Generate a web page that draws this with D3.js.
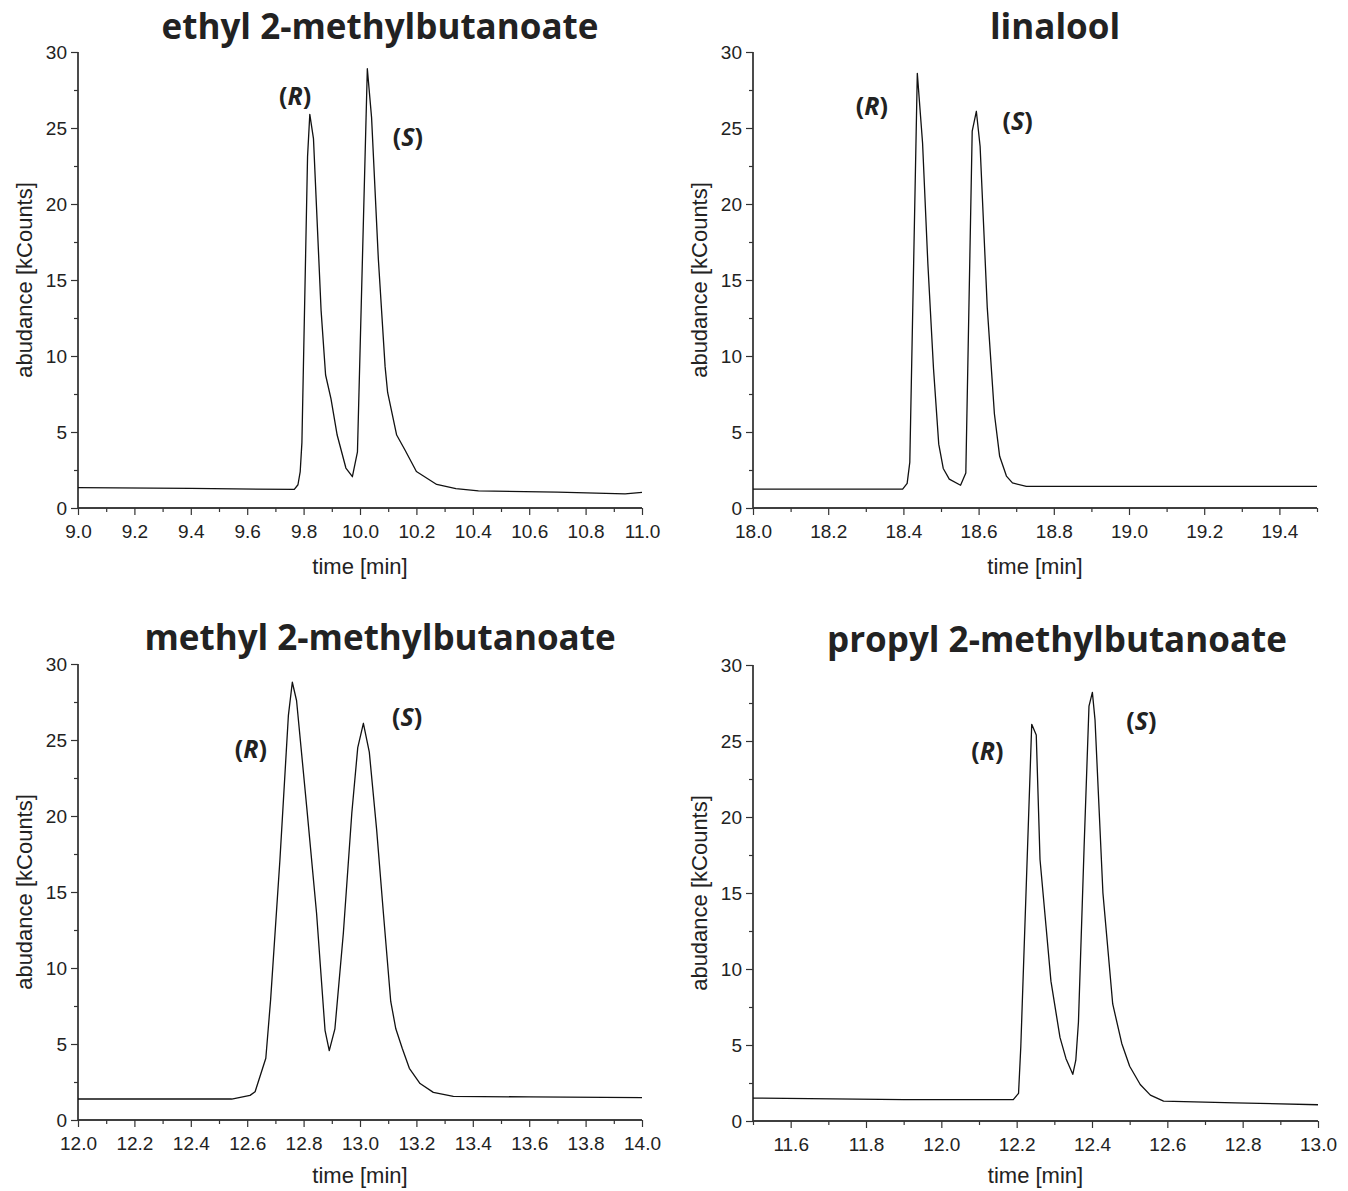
<!DOCTYPE html>
<html>
<head>
<meta charset="utf-8">
<script src="https://cdn.jsdelivr.net/npm/d3@7"></script>
<style>
  body { margin: 0; background: #fff; }
  .tick text { font-family: "Liberation Sans", Arial, sans-serif; font-size: 19px; fill: #222; }
  .axisTitle { font-family: "Liberation Sans", Arial, sans-serif; font-size: 22px; fill: #222; }
  .panelTitle { font-family: "Open Sans", sans-serif; font-weight: 700; font-size: 35px; fill: #222; }
  .enant { font-family: "Open Sans", sans-serif; font-weight: 700; font-size: 25px; fill: #222; }
</style>
</head>
<body>
<div id="chart"></div>
<script>
// GC-MS chromatograms, four chiral compounds (R)/(S)

// ── Data ─────────────────────────────────────────────────────────────────
const ethylTime  = [9.00, 9.40, 9.767, 9.780, 9.788, 9.794, 9.814, 9.822, 9.835, 9.862, 9.878, 9.897, 9.919, 9.950, 9.973, 9.991, 10.026, 10.041, 10.065, 10.089, 10.098, 10.130, 10.160, 10.200, 10.272, 10.340, 10.420, 10.700, 10.940, 11.000];
const ethylAbund = [1.34, 1.29, 1.22, 1.53, 2.4, 4.3, 23.1, 25.9, 24.3, 13.0, 8.75, 7.2, 4.8, 2.63, 2.06, 3.7, 28.9, 25.7, 16.4, 9.3, 7.6, 4.8, 3.8, 2.4, 1.55, 1.28, 1.13, 1.04, 0.93, 1.03];

const linaloolTime  = [18.00, 18.398, 18.410, 18.417, 18.437, 18.451, 18.465, 18.480, 18.494, 18.506, 18.522, 18.552, 18.566, 18.583, 18.594, 18.604, 18.623, 18.642, 18.656, 18.674, 18.690, 18.727, 19.50];
const linaloolAbund = [1.24, 1.24, 1.62, 3.0, 28.6, 24.0, 16.1, 9.2, 4.2, 2.6, 1.9, 1.5, 2.3, 24.8, 26.1, 23.8, 13.2, 6.2, 3.4, 2.1, 1.65, 1.42, 1.42];

const methylTime  = [12.00, 12.545, 12.610, 12.628, 12.666, 12.683, 12.716, 12.746, 12.760, 12.775, 12.811, 12.846, 12.876, 12.891, 12.911, 12.941, 12.971, 12.992, 13.012, 13.033, 13.059, 13.083, 13.109, 13.127, 13.150, 13.175, 13.213, 13.260, 13.331, 13.600, 14.00];
const methylAbund = [1.38, 1.38, 1.62, 1.86, 4.06, 7.9, 17.1, 26.6, 28.8, 27.6, 20.6, 13.6, 5.9, 4.56, 6.0, 12.3, 20.2, 24.5, 26.1, 24.2, 19.1, 13.6, 7.8, 6.0, 4.7, 3.4, 2.4, 1.82, 1.55, 1.52, 1.47];

const propylTime  = [11.50, 11.90, 12.191, 12.205, 12.211, 12.240, 12.252, 12.262, 12.278, 12.291, 12.315, 12.331, 12.349, 12.357, 12.364, 12.379, 12.392, 12.401, 12.408, 12.429, 12.455, 12.479, 12.500, 12.528, 12.555, 12.590, 12.780, 13.00];
const propylAbund = [1.51, 1.41, 1.41, 1.82, 4.9, 26.1, 25.4, 17.2, 12.8, 9.2, 5.5, 4.1, 3.07, 4.0, 6.5, 18.0, 27.3, 28.2, 26.4, 15.0, 7.7, 5.1, 3.6, 2.4, 1.7, 1.31, 1.19, 1.07];

const titles = ["ethyl 2-methylbutanoate", "linalool", "methyl 2-methylbutanoate", "propyl 2-methylbutanoate"];

// ticks
const yMajor = [0, 5, 10, 15, 20, 25, 30];
const yMinor = [2.5, 7.5, 12.5, 17.5, 22.5, 27.5];
const xMajor1 = [9.0, 9.2, 9.4, 9.6, 9.8, 10.0, 10.2, 10.4, 10.6, 10.8, 11.0];
const xMajor2 = [18.0, 18.2, 18.4, 18.6, 18.8, 19.0, 19.2, 19.4];
const xMajor3 = [12.0, 12.2, 12.4, 12.6, 12.8, 13.0, 13.2, 13.4, 13.6, 13.8, 14.0];
const xMajor4 = [11.6, 11.8, 12.0, 12.2, 12.4, 12.6, 12.8, 13.0];

const W = 1348, H = 1191;

const panels = [
  { title: titles[0], t: ethylTime, v: ethylAbund, xDom: [9.0, 11.0], xMajor: xMajor1,
    left: 78, right: 642, top: 52, bottom: 508, titleX: 380, titleY: 39,
    tags: [{ s: "R", t: 9.77, v: 27.2 }, { s: "S", t: 10.17, v: 24.5 }] },
  { title: titles[1], t: linaloolTime, v: linaloolAbund, xDom: [18.0, 19.5], xMajor: xMajor2,
    left: 753, right: 1317, top: 52, bottom: 508, titleX: 1055, titleY: 39,
    tags: [{ s: "R", t: 18.316, v: 26.5 }, { s: "S", t: 18.704, v: 25.5 }] },
  { title: titles[2], t: methylTime, v: methylAbund, xDom: [12.0, 14.0], xMajor: xMajor3,
    left: 78, right: 642, top: 664, bottom: 1120, titleX: 380, titleY: 650,
    tags: [{ s: "R", t: 12.613, v: 24.5 }, { s: "S", t: 13.167, v: 26.6 }] },
  { title: titles[3], t: propylTime, v: propylAbund, xDom: [11.5, 13.0], xMajor: xMajor4,
    left: 753, right: 1318, top: 665, bottom: 1121, titleX: 1057, titleY: 652,
    tags: [{ s: "R", t: 12.122, v: 24.4 }, { s: "S", t: 12.531, v: 26.4 }] }
];

const svg = d3.select("#chart").append("svg")
  .attr("width", W).attr("height", H);

panels.forEach(p => {
  const x = d3.scaleLinear().domain(p.xDom).range([p.left, p.right]);
  const y = d3.scaleLinear().domain([0, 30]).range([p.bottom, p.top]);

  // minor ticks every 0.1 min that are not majors
  const xMinor = d3.range(Math.round(p.xDom[0] * 10), Math.round(p.xDom[1] * 10) + 1)
    .map(d => d / 10)
    .filter(d => !p.xMajor.some(m => Math.abs(m - d) < 1e-6));

  const g = svg.append("g");

  // minor ticks first (no labels)
  g.append("g")
    .attr("transform", `translate(0,${p.bottom})`)
    .call(d3.axisBottom(x).tickValues(xMinor).tickSize(4).tickFormat(""));
  g.append("g")
    .attr("transform", `translate(${p.left},0)`)
    .call(d3.axisLeft(y).tickValues(yMinor).tickSize(4).tickFormat(""));

  // major ticks
  g.append("g")
    .attr("transform", `translate(0,${p.bottom})`)
    .call(d3.axisBottom(x).tickValues(p.xMajor).tickSize(7).tickPadding(10).tickFormat(d3.format(".1f")));
  g.append("g")
    .attr("transform", `translate(${p.left},0)`)
    .call(d3.axisLeft(y).tickValues(yMajor).tickSize(7).tickPadding(4).tickFormat(d3.format("d")));

  g.selectAll(".domain").attr("stroke", "#333").attr("stroke-width", 1.3);
  g.selectAll(".tick line").attr("stroke", "#333").attr("stroke-width", 1.2);
  // plain axis lines, no end caps
  g.selectAll(".domain").attr("d", function() {
    return this.parentNode.getAttribute("transform").includes(`,${p.bottom})`)
      ? `M${p.left},0H${p.right}` : `M0,${p.bottom}V${p.top}`;
  });

  // trace
  const pts = p.t.map((t, i) => [t, p.v[i]]);
  g.append("path")
    .datum(pts)
    .attr("fill", "none")
    .attr("stroke", "#111")
    .attr("stroke-width", 1.3)
    .attr("stroke-linejoin", "round")
    .attr("d", d3.line().x(d => x(d[0])).y(d => y(d[1])));

  // axis titles (keep the lower row inside the page)
  g.append("text")
    .attr("class", "axisTitle")
    .attr("x", (p.left + p.right) / 2)
    .attr("y", Math.min(p.bottom + 66, H - 8))
    .attr("text-anchor", "middle")
    .text("time [min]");

  g.append("text")
    .attr("class", "axisTitle")
    .attr("transform", `translate(${p.left - 46},${(p.top + p.bottom) / 2}) rotate(-90)`)
    .attr("text-anchor", "middle")
    .text("abudance [kCounts]");

  // panel title
  g.append("text")
    .attr("class", "panelTitle")
    .attr("x", p.titleX)
    .attr("y", p.titleY)
    .attr("text-anchor", "middle")
    .text(p.title);

  // (R) / (S) tags
  p.tags.forEach(tag => {
    const t = g.append("text")
      .attr("class", "enant")
      .attr("x", x(tag.t))
      .attr("y", y(tag.v))
      .attr("text-anchor", "middle")
      .attr("dominant-baseline", "central");
    t.append("tspan").text("(");
    t.append("tspan").style("font-style", "italic").text(tag.s);
    t.append("tspan").text(")");
  });
});
</script>
</body>
</html>
